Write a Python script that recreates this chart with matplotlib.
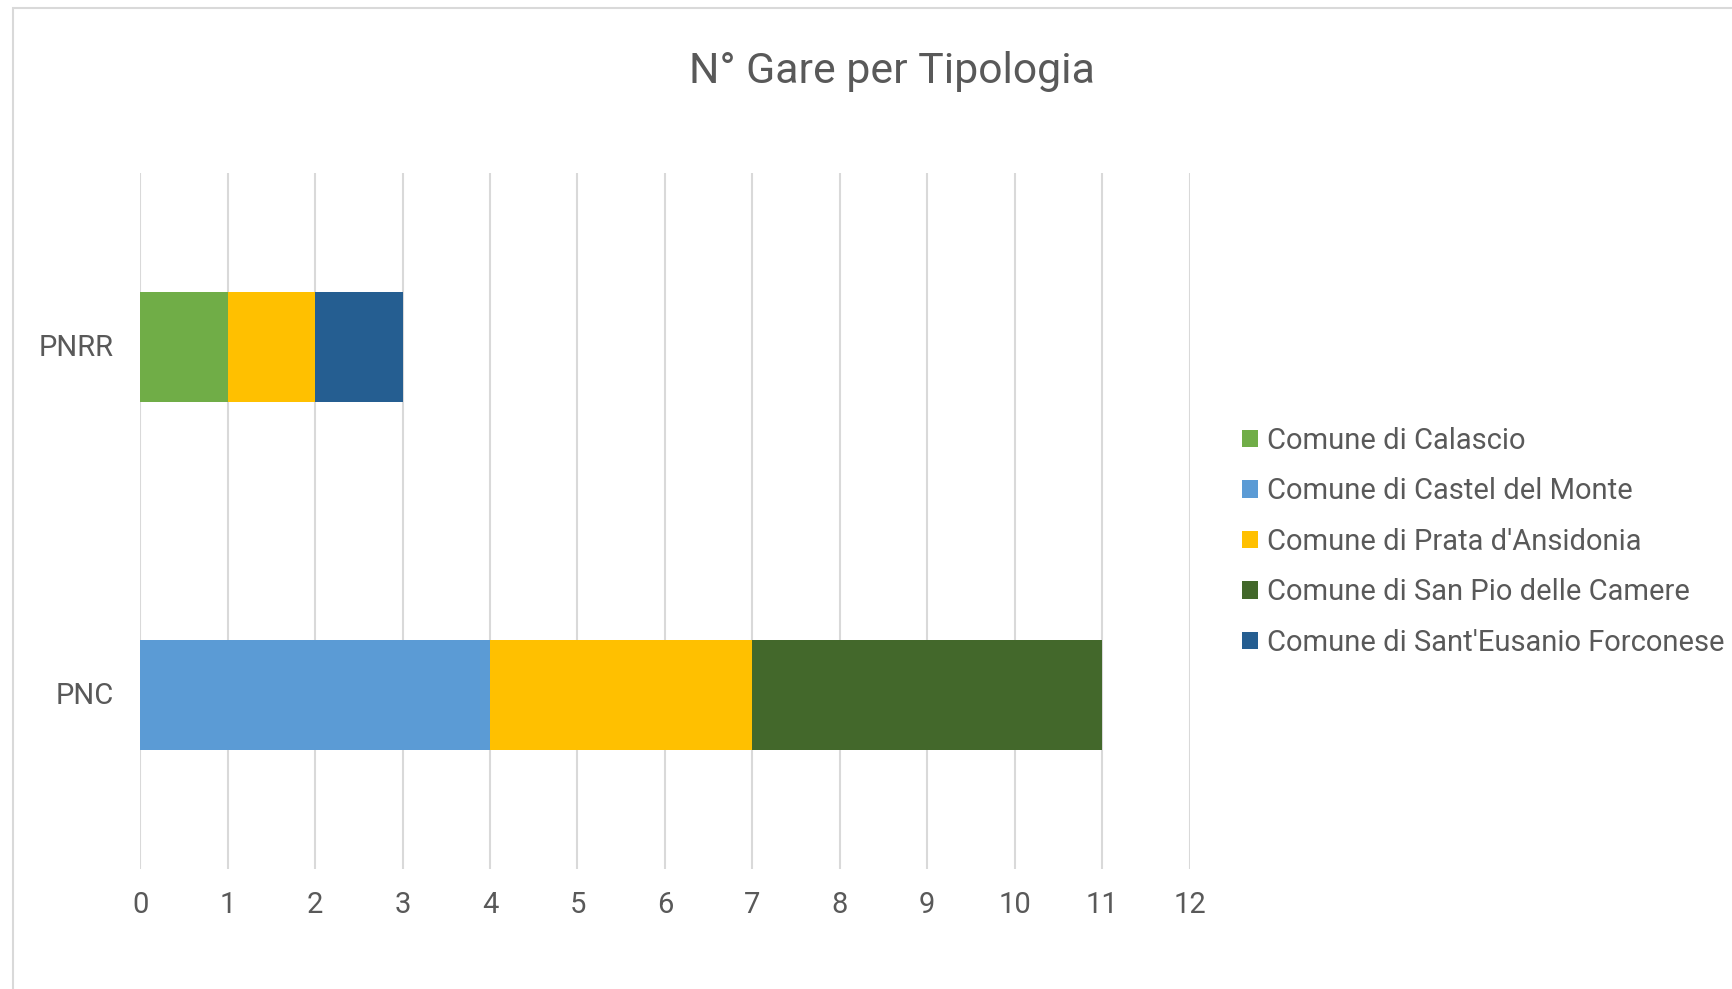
import matplotlib
matplotlib.use("Agg")
import matplotlib.pyplot as plt
from matplotlib.patches import Rectangle, Patch
import matplotlib.transforms as mtransforms
import numpy as np

plt.rcParams['font.family'] = ['Roboto', 'DejaVu Sans']

title = "N° Gare per Tipologia"
categories = ["PNC", "PNRR"]
series_names = ["Comune di Calascio", "Comune di Castel del Monte", "Comune di Prata d'Ansidonia",
                "Comune di San Pio delle Camere", "Comune di Sant'Eusanio Forconese"]
calascio = [0, 1]
castel_del_monte = [4, 0]
prata = [3, 1]
san_pio = [4, 0]
sant_eusanio = [0, 1]
series_values = [calascio, castel_del_monte, prata, san_pio, sant_eusanio]
colors = ["#70AD47", "#5B9BD5", "#FFC000", "#43682B", "#255E91"]
x_ticks = list(range(0, 13))

W, H = 1732, 989
fig = plt.figure(figsize=(W / 100, H / 100), dpi=100)
fig.patch.set_facecolor("white")

# outer chart border (partially cropped)
fig.add_artist(Rectangle((13 / W, -0.1), 1.2, 1 - 7.5 / H + 0.1, transform=fig.transFigure,
                         fill=False, edgecolor="#D9D9D9", linewidth=1.5))

ax = fig.add_axes([140.3 / W, 1 - 869 / H, (1189.5 - 140.3) / W, (869 - 173) / H])
txtc = "#595959"

y = np.arange(len(categories))
left = np.zeros(len(categories))
for name, vals, c in zip(series_names, series_values, colors):
    v = np.array(vals, dtype=float)
    ax.barh(y, v, left=left, height=0.316, color=c, label=name, zorder=3)
    left += v

ax.set_xlim(0, 12)
ax.set_ylim(-0.5, 1.5)
ax.set_xticks(x_ticks)
ax.set_xticklabels([str(t) for t in x_ticks])
ax.set_yticks(y)
ax.set_yticklabels(categories)
ax.grid(axis="x", color="#D9D9D9", linewidth=1.5, zorder=0)
ax.set_axisbelow(True)
for s in ax.spines.values():
    s.set_visible(False)
ax.tick_params(axis="x", length=0, pad=15.5, labelsize=21, labelcolor=txtc)
ax.tick_params(axis="y", length=0, pad=19, labelsize=21, labelcolor=txtc)
up = mtransforms.ScaledTranslation(0, 2.5 / 100, fig.dpi_scale_trans)
for lab in ax.get_yticklabels():
    lab.set_transform(lab.get_transform() + up)

fig.text(892 / W, 1 - 71.5 / H, title, ha="center", va="center", fontsize=30.8, color=txtc)

handles = [Patch(facecolor=c, edgecolor="none") for c in colors]
leg = fig.legend(handles, series_names, loc="upper left",
                 bbox_to_anchor=(1242 / W, 1 - 427 / H), frameon=False,
                 fontsize=21, labelcolor=txtc, handlelength=0.55, handleheight=0.55,
                 handletextpad=0.3, labelspacing=0.77, borderaxespad=0, borderpad=0)

fig.savefig("out.png", dpi=100, facecolor="white")
